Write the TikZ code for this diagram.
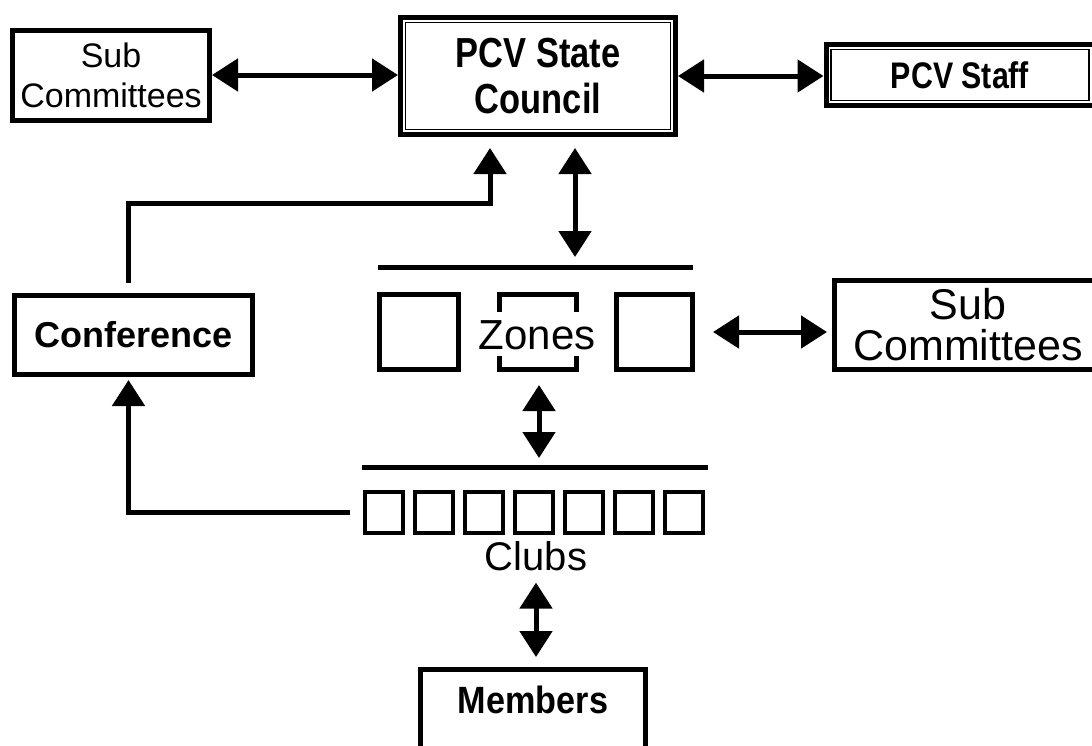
\documentclass[tikz,border=0pt]{standalone}
\usepackage{fontspec}
\setmainfont{Liberation Sans}
\newfontfamily\narrowfont[FakeStretch=0.82]{Liberation Sans}
\newfontfamily\memberfont[FakeStretch=0.9]{Liberation Sans}
\usepackage{tikz}
\usetikzlibrary{arrows.meta}
\tikzset{>={Triangle[length=26pt,width=32pt]}}
\tikzset{
  box/.style={draw, line width=5pt, inner sep=0pt, align=center},
  dblbox/.style={box, path picture={\draw[line width=1.2pt] ([shift={(5pt,-5pt)}]path picture bounding box.north west) rectangle ([shift={(-5pt,5pt)}]path picture bounding box.south east);}},
  sqbox/.style={draw, line width=5pt, inner sep=0pt},
  bar/.style={line width=5pt},
  link/.style={line width=5pt}
}

\begin{document}
\begin{tikzpicture}[x=1pt,y=-1pt]
    \useasboundingbox (0,0) rectangle (1092,745);
    \clip (0,0) rectangle (1092,745);
    % top row
    \node[box, minimum width=197pt, minimum height=90pt, font=\fontsize{34}{40}\selectfont] (subL) at (111,75) {Sub\\Committees};
    \node[dblbox, minimum width=275pt, minimum height=117pt, font=\narrowfont\bfseries\fontsize{42}{46}\selectfont] (pcv) at (538,76) {PCV State\\Council};
    \node[dblbox, minimum width=268pt, minimum height=61pt, font=\narrowfont\bfseries\fontsize{37}{40}\selectfont] (staff) at (960,75) {PCV Staff};
    \node[box, minimum width=238pt, minimum height=79pt, font=\bfseries\fontsize{36}{40}\selectfont] (conf) at (133.5,335) {Conference};
    \node[box, minimum width=267pt, minimum height=89pt, font=\fontsize{43}{41}\selectfont] (subR) at (968,325) {Sub\\Committees};
    % zones
    \draw[bar] (378,267) -- (693,267);
    \coordinate (zbar) at (575,267);
    \node[sqbox, minimum width=79pt, minimum height=75pt] (zoneL) at (419,332) {};
    \node[sqbox, minimum width=76pt, minimum height=75pt] (zoneR) at (654.5,332) {};
    \node[minimum width=77pt, minimum height=75pt, inner sep=0pt, outer sep=0pt] (zoneM) at (538,332) {};
    \draw[bar] (zoneM.north west) ++(0,17) |- (zoneM.north east) -- ++(0,17);
    \draw[bar] (zoneM.south west) ++(0,-14) |- (zoneM.south east) -- ++(0,-14);
    \node[inner sep=0pt, font=\fontsize{42}{46}\selectfont] (zones) at (537,335) {Zones};
    % clubs
    \draw[bar] (362,467) -- (708,467);
    \coordinate (cbar) at (539,467);
    \foreach \i in {0,...,6}
        \node[sqbox, line width=4.5pt, minimum width=38pt, minimum height=41pt] (club\i) at ({384+50*\i},512.5) {};
    \node[inner sep=0pt, anchor=base, font=\fontsize{40}{46}\selectfont] (clubs) at (536,570) {Clubs};
    \node[box, anchor=north, minimum width=225pt, minimum height=110pt, text height=26pt, text depth=48pt, font=\memberfont\bfseries\fontsize{38}{44}\selectfont] (members) at (533,667) {Members};
    % connectors
    \coordinate (confbend) at (490,203);
    \coordinate (clubfeed) at (350,512.5);
    \draw[link, <->] (subL.east) -- (subL.east -| pcv.west);
    \draw[link, <->] (pcv.east) -- (pcv.east -| staff.west);
    \draw[link, ->, shorten <=10pt, shorten >=11pt] ([xshift=-5pt]conf.north) |- (confbend) -- (confbend |- pcv.south);
    \draw[link, <->, shorten <=11pt, shorten >=10pt] (zbar |- pcv.south) -- (zbar);
    \draw[link, <->, shorten <=13pt, shorten >=9pt] (cbar |- zoneL.south) -- (cbar);
    \draw[link, <->, shorten <=18pt, shorten >=5pt] (zoneR.east) -- (zoneR.east -| subR.west);
    \draw[link, ->, shorten >=3pt] (clubfeed) -| ([xshift=-5pt]conf.south);
    \draw[link, <->, shorten <=12pt, shorten >=10pt] (clubs.south) -- (clubs.south |- members.north);
\end{tikzpicture}
\end{document}
